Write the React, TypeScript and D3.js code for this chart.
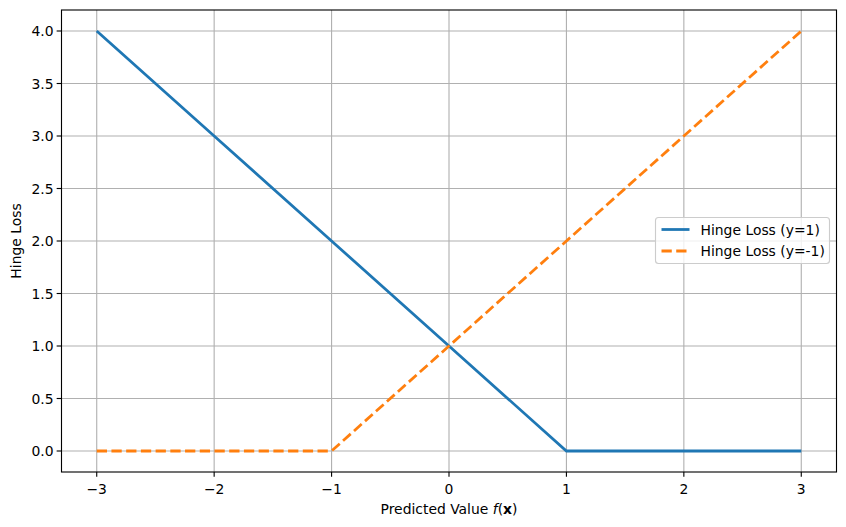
import React from "react";
import * as d3 from "d3";

const xValues = [-3, -2, -1, 0, 1, 2, 3];
const lossPos = [4, 3, 2, 1, 0, 0, 0];
const lossNeg = [0, 0, 0, 1, 2, 3, 4];
const xTicks = [-3, -2, -1, 0, 1, 2, 3];
const yTicks = [0, 0.5, 1, 1.5, 2, 2.5, 3, 3.5, 4];
const seriesNames = ["Hinge Loss (y=1)", "Hinge Loss (y=-1)"];

const W = 846, H = 527;
const left = 61.5, right = 836.5, top = 10, bottom = 472;
const font = "DejaVu Sans, sans-serif";
const fs = 13.9;

export default function App() {
  const x = d3.scaleLinear().domain([-3.3, 3.3]).range([left, right]);
  const y = d3.scaleLinear().domain([-0.2, 4.2]).range([bottom, top]);
  const line = d3.line<[number, number]>().x(d => x(d[0])).y(d => y(d[1]));
  const p1 = line(xValues.map((v, i) => [v, lossPos[i]] as [number, number]))!;
  const p2 = line(xValues.map((v, i) => [v, lossNeg[i]] as [number, number]))!;
  const fmt = (v: number) => (v < 0 ? "\u2212" + Math.abs(v) : String(v));
  const lw = 2.78;
  const lgX = 655.5, lgY = 217.5, lgW = 174, lgH = 46;
  return (
    <svg width={W} height={H} style={{ position: "absolute", left: 0, top: 0 }} fontFamily={font}>
      <rect x={0} y={0} width={W} height={H} fill="#fff" />
      {xTicks.map(t => (
        <line key={"gx" + t} x1={x(t)} x2={x(t)} y1={top} y2={bottom} stroke="#b0b0b0" strokeWidth={1.11} />
      ))}
      {yTicks.map(t => (
        <line key={"gy" + t} x1={left} x2={right} y1={y(t)} y2={y(t)} stroke="#b0b0b0" strokeWidth={1.11} />
      ))}
      <path d={p1} fill="none" stroke="#1f77b4" strokeWidth={lw} />
      <path d={p2} fill="none" stroke="#ff7f0e" strokeWidth={lw} strokeDasharray="10.28,4.44" />
      <rect x={left} y={top} width={right - left} height={bottom - top} fill="none" stroke="#000" strokeWidth={1.11} />
      {xTicks.map(t => (
        <g key={"tx" + t}>
          <line x1={x(t)} x2={x(t)} y1={bottom} y2={bottom + 4.86} stroke="#000" strokeWidth={1.11} />
          <text x={x(t)} y={bottom + 22} fontSize={fs} textAnchor="middle" fill="#000">{fmt(t)}</text>
        </g>
      ))}
      {yTicks.map(t => (
        <g key={"ty" + t}>
          <line x1={left - 4.86} x2={left} y1={y(t)} y2={y(t)} stroke="#000" strokeWidth={1.11} />
          <text x={left - 8} y={y(t) + 5} fontSize={fs} textAnchor="end" fill="#000">{t.toFixed(1)}</text>
        </g>
      ))}
      <text x={(left + right) / 2} y={514} fontSize={fs} textAnchor="middle" fill="#000">
        Predicted Value <tspan fontStyle="italic">f</tspan>(<tspan fontWeight="bold">x</tspan>)
      </text>
      <text transform={`translate(21,${(top + bottom) / 2}) rotate(-90)`} fontSize={fs} textAnchor="middle" fill="#000">Hinge Loss</text>
      <rect x={lgX} y={lgY} width={lgW} height={lgH} rx={3} fill="#fff" fillOpacity={0.8} stroke="#cccccc" strokeWidth={1.11} />
      {seriesNames.map((n, i) => (
        <g key={n}>
          <line x1={lgX + 6} x2={lgX + 34} y1={lgY + 12 + i * 21.5} y2={lgY + 12 + i * 21.5}
            stroke={i === 0 ? "#1f77b4" : "#ff7f0e"} strokeWidth={lw} strokeDasharray={i === 1 ? "10.28,4.44" : undefined} />
          <text x={lgX + 45} y={lgY + 17 + i * 21.5} fontSize={fs} fill="#000">{n}</text>
        </g>
      ))}
    </svg>
  );
}
